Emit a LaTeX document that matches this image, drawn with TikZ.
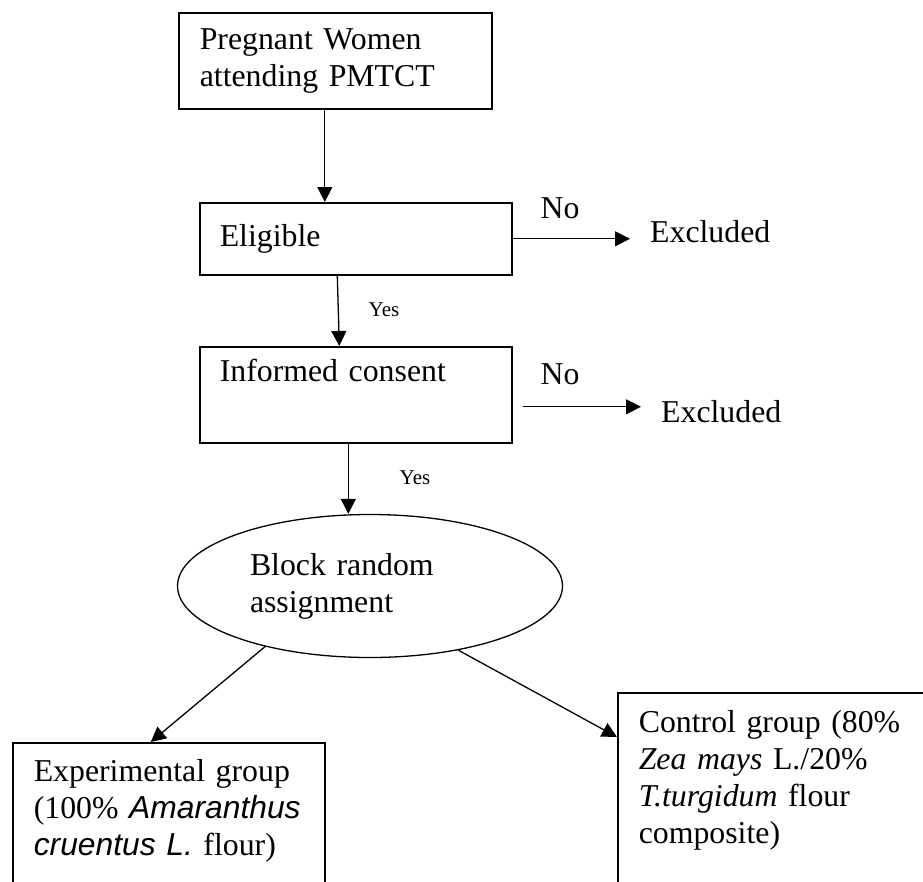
\documentclass[tikz,border=0pt]{standalone}
\usepackage{fontspec}
\setmainfont{Liberation Serif}
\newfontfamily\arialfont{Liberation Sans}
\usepackage{tikz}
\usetikzlibrary{arrows.meta}
\usetikzlibrary{shapes.geometric}
\newcommand{\sansit}[1]{{\arialfont\itshape #1}}

\begin{document}
\begin{tikzpicture}[x=1pt,y=-1pt,
    font=\fontsize{31.8}{37}\selectfont,
    box/.style={draw,line width=1.6pt,rectangle,align=left,anchor=north west,inner ysep=0pt},
    arr/.style={line width=1.3pt,-{Triangle[length=15pt,width=15pt]}},
    lbl/.style={anchor=base},
    small/.style={anchor=base,font=\fontsize{21}{25}\selectfont},
    exc/.style={anchor=base west,inner xsep=20pt}]
  \useasboundingbox (0,0) rectangle (923,881);
  \clip (0,0) rectangle (923,881);
  \node[box,minimum height=96pt,text width=271pt,inner xsep=21pt] (preg) at (178,12)
    {Pregnant Women\\attending PMTCT};
  \node[box,minimum height=72pt,text width=272pt,inner xsep=20pt] (elig) at (199,202)
    {Eligible};
  \node[box,minimum height=96pt,text width=272pt,inner xsep=20pt] (inf) at (199,346)
    {Informed consent\\\strut};
  \node[draw,ellipse,line width=1.3pt,minimum width=385pt,minimum height=143pt,
    text width=240pt,align=left] (blk) at (370,586)
    {Block random\\assignment};
  \node[box,text width=270pt,inner xsep=21pt,inner ysep=17pt] (exp) at (12,742)
    {Experimental group\\(100\% \sansit{Amaranthus}\\\sansit{cruentus L.} flour)\\\strut};
  \node[box,text width=300pt,inner xsep=21pt,inner ysep=18pt] (ctl) at (617,692)
    {Control group (80\%\\\textit{Zea mays} L./20\%\\\textit{T.turgidum} flour\\composite)\\\strut};
  \node[exc] (exc1) at (630,242) {Excluded};
  \node[exc] (exc2) at (641,422) {Excluded};
  \node[lbl] (no1) at (560,218) {No};
  \node[lbl] (no2) at (560,384) {No};
  \node[small] (yes1) at (384,316) {Yes};
  \node[small] (yes2) at (415,484) {Yes};
  \coordinate (nostart) at ([xshift=10pt,yshift=-12pt]inf.east);

  \draw[arr]
    ([xshift=-10.5pt]preg.south)
    --
    ([xshift=-10.5pt]preg.south |- elig.north);
  \draw[arr]
    (elig.east)
    --
    (exc1.west |- elig.east);
  \draw[arr]
    ([xshift=-18.5pt]elig.south)
    --
    ([xshift=-16.5pt]inf.north);
  \draw[arr]
    (nostart)
    --
    (nostart -| exc2.west);
  \draw[arr]
    ([xshift=-7.5pt]inf.south)
    --
    ([xshift=-7.5pt]inf.south |- blk.north);
  \draw[arr]
    (blk.210)
    --
    ([xshift=-18pt]exp.north);
  \draw[arr]
    (blk.324)
    --
    ([yshift=-45pt]ctl.north west);
\end{tikzpicture}
\end{document}
